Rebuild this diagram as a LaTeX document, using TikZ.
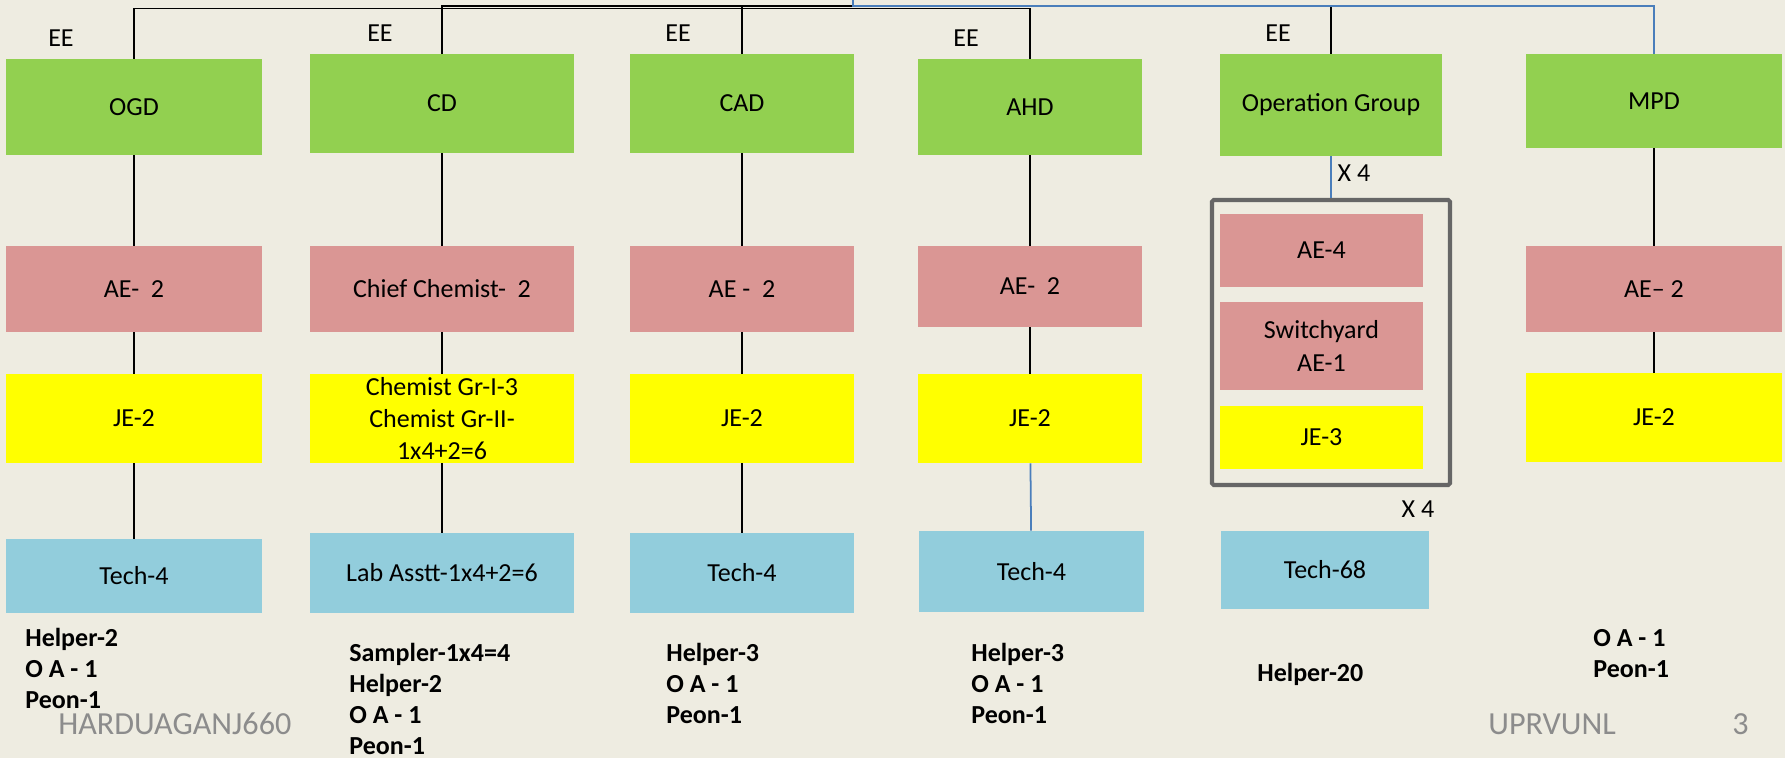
\documentclass[tikz,border=0pt]{standalone}
\usepackage{fontspec}
\setmainfont{Carlito}
\definecolor{bgpaper}{HTML}{EEECE1}
\definecolor{deptgreen}{HTML}{92D050}
\definecolor{aepink}{HTML}{DA9694}
\definecolor{jeyellow}{HTML}{FFFF00}
\definecolor{techblue}{HTML}{92CDDC}
\definecolor{linkblue}{HTML}{4A7EBB}
\definecolor{framegray}{HTML}{666666}
\definecolor{footgray}{HTML}{8C8C8C}

\begin{document}
\begin{tikzpicture}[x=0.02cm, y=-0.02cm, font=\fontsize{14.8}{18.4}\selectfont,
  box/.style 2 args={inner sep=0pt, align=center, minimum width=#1*0.02cm, minimum height=#2*0.02cm},
  dept/.style={fill=deptgreen},
  ae/.style={fill=aepink},
  je/.style={fill=jeyellow},
  tech/.style={fill=techblue},
  link/.style={draw=black, line width=1pt},
  bluelink/.style={draw=linkblue, line width=1pt},
  staff/.style={anchor=base west, align=left, inner sep=0pt, font=\fontsize{14.8}{17.6}\selectfont\bfseries},
  foot/.style={anchor=base west, inner sep=0pt, text=footgray, font=\fontsize{18.3}{22}\selectfont}
]
  \fill[bgpaper] (0,0) rectangle (1785,758);
  \useasboundingbox (0,0) rectangle (1785,758);

  \node[dept, box={256}{96}]  (ogd) at (134,107)   {OGD};
  \node[dept, box={264}{99}]  (cd)  at (442,103.5) {CD};
  \node[dept, box={224}{99}]  (cad) at (742,103.5) {CAD};
  \node[dept, box={224}{96}]  (ahd) at (1030,107)  {AHD};
  \node[dept, box={222}{102}] (opg) at (1331,105)  {Operation Group};
  \node[dept, box={256}{94}]  (mpd) at (1654,101)  {MPD};

  \node at (61,38)   (eeogd) {EE};
  \node at (380,33)  (eecd)  {EE};
  \node at (678,33)  (eecad) {EE};
  \node at (966,38)  (eeahd) {EE};
  \node at (1278,33) (eeopg) {EE};

  \node[ae, box={256}{86}] (ogdae) at (134,289)    {AE-\ \ 2};
  \node[ae, box={264}{86}] (cdae)  at (442,289)    {Chief Chemist-\ \ 2};
  \node[ae, box={224}{86}] (cadae) at (742,289)    {AE -\ \ 2};
  \node[ae, box={224}{81}] (ahdae) at (1030,286.5) {AE-\ \ 2};
  \node[ae, box={256}{86}] (mpdae) at (1654,289)   {AE– 2};

  \node[je, box={256}{89}] (ogdje) at (134,418.5)  {JE-2};
  \node[je, box={264}{89}] (cdje)  at (442,418.5)  {Chemist Gr-I-3\\Chemist Gr-II-\\1x4+2=6};
  \node[je, box={224}{89}] (cadje) at (742,418.5)  {JE-2};
  \node[je, box={224}{89}] (ahdje) at (1030,418.5) {JE-2};
  \node[je, box={256}{89}] (mpdje) at (1654,417.5) {JE-2};

  \node[draw=framegray, line width=2.3pt, rounded corners=1pt, box={238}{285}] (opgframe) at (1331,342.5) {};
  \node[ae, box={203}{73}] (opgae) at (1321.5,250.5) {AE-4};
  \node[ae, box={203}{88}] (opgsy) at (1321.5,346)   {Switchyard\\AE-1};
  \node[je, box={203}{63}] (opgje) at (1321.5,437.5) {JE-3};
  \node at (1354,173) (opgmult)  {X 4};
  \node at (1418,509) (techmult) {X 4};

  \node[tech, box={256}{74}] (ogdtech) at (134,576)      {Tech-4};
  \node[tech, box={264}{80}] (cdtech)  at (442,573)      {Lab Asstt-1x4+2=6};
  \node[tech, box={224}{80}] (cadtech) at (742,573)      {Tech-4};
  \node[tech, box={225}{81}] (ahdtech) at (1031.5,571.5) {Tech-4};
  \node[tech, box={208}{78}] (opgtech) at (1325,570)     {Tech-68};

  \node[staff] (ogdstaff) at (25,708)   {Helper-2\\O A - 1\\Peon-1};
  \node[staff] (cdstaff)  at (349,754)  {Sampler-1x4=4\\Helper-2\\O A - 1\\Peon-1};
  \node[staff] (cadstaff) at (666,723)  {Helper-3\\O A - 1\\Peon-1};
  \node[staff] (ahdstaff) at (971,723)  {Helper-3\\O A - 1\\Peon-1};
  \node[staff] (opgstaff) at (1257,681) {Helper-20};
  \node[staff] (mpdstaff) at (1593,677) {O A - 1\\Peon-1};

  \node[foot] (site)   at (58,734)   {HARDUAGANJ660};
  \node[foot] (org)    at (1488,734) {UPRVUNL};
  \node[foot] (pageno) at (1732,734) {3};

  \coordinate (westbus) at (134,8.5);
  \coordinate (feed)    at (853,0);
  \coordinate (eastbus) at (853,5.7);
  \draw[link] (ogd.north) -- (ogd.north |- westbus) -- (ahd.north |- westbus) -- (ahd.north);
  \draw[link] (cd.north) -- (cd.north |- eastbus) -- (eastbus);
  \draw[link] (cad.north) -- (cad.north |- eastbus);
  \draw[link] (opg.north) -- (opg.north |- eastbus);
  \draw[bluelink] (feed) -- (eastbus) -- (mpd.north |- eastbus) -- (mpd.north);

  \draw[link] (ogd) -- (ogdae) -- (ogdje) -- (ogdtech);
  \draw[link] (cd) -- (cdae) -- (cdje) -- (cdtech);
  \draw[link] (cad) -- (cadae) -- (cadje) -- (cadtech);
  \draw[link] (ahd) -- (ahdae) -- (ahdje);
  \draw[bluelink] (ahdje) -- (ahdtech);
  \draw[link] (mpd) -- (mpdae) -- (mpdje);
  \draw[bluelink] (opg) -- (opgframe);
\end{tikzpicture}
\end{document}
